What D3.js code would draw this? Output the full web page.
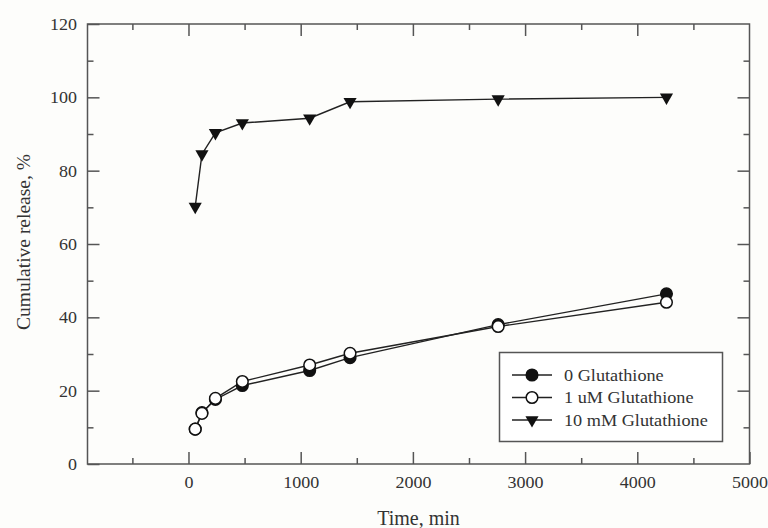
<!DOCTYPE html>
<html><head><meta charset="utf-8">
<script src="https://cdn.jsdelivr.net/npm/d3@7"></script>
<style>body{margin:0;background:#fdfdfb;}svg{display:block;}</style>
</head><body><svg id="c" width="768" height="528"></svg>
<script>
const times = [60, 120, 240, 480, 1080, 1440, 2760, 4260];
const gsh0 = [9.5, 14.0, 17.6, 21.4, 25.5, 29.0, 38.0, 46.4];
const gsh1uM = [9.5, 13.8, 17.9, 22.5, 27.0, 30.2, 37.5, 44.1];
const gsh10mM = [70.2, 84.5, 90.3, 93.0, 94.3, 98.8, 99.5, 100.0];
const seriesNames = ["0 Glutathione", "1 uM Glutathione", "10 mM Glutathione"];
const xTicks = [0, 1000, 2000, 3000, 4000, 5000];
const yTicks = [0, 20, 40, 60, 80, 100, 120];

const svg = d3.select("#c");
const L = 87.5, R = 749.5, T = 24, B = 464;
const x = d3.scaleLinear().domain([-900, 5000]).range([L, R]);
const y = d3.scaleLinear().domain([0, 120]).range([B, T]);
const axisColor = "#555", labelColor = "#333";
const font = "'Liberation Serif','Times New Roman',serif";

svg.append("rect").attr("x", L).attr("y", T).attr("width", R - L).attr("height", B - T)
  .attr("fill", "none").attr("stroke", axisColor).attr("stroke-width", 1.5);

const xMajor = d3.range(-500, 5000, 500).filter(v => v > -900);
const yMinor = d3.range(10, 120, 10);
function tickGroup(axis, offset) {
  const g = svg.append("g").attr("transform", offset).call(axis);
  g.select(".domain").remove();
  g.selectAll(".tick line").attr("stroke", axisColor).attr("stroke-width", 1.5);
  g.selectAll("text").attr("fill", labelColor).style("font-family", font).style("font-size", "17px");
  return g;
}
const gb = tickGroup(d3.axisBottom(x).tickValues(xTicks).tickSize(-12).tickPadding(12).tickFormat(d3.format("d")), `translate(0,${B})`);
gb.selectAll("text").attr("transform", "scale(1.06,1)");
tickGroup(d3.axisBottom(x).tickValues(xMajor.filter(v => v % 1000 !== 0)).tickSize(-6).tickFormat(""), `translate(0,${B})`);
tickGroup(d3.axisTop(x).tickValues(xTicks.filter(v => v < 5000)).tickSize(-12).tickFormat(""), `translate(0,${T})`);
tickGroup(d3.axisTop(x).tickValues(xMajor.filter(v => v % 1000 !== 0)).tickSize(-6).tickFormat(""), `translate(0,${T})`);
const gl = tickGroup(d3.axisLeft(y).tickValues(yTicks).tickSize(-12).tickPadding(10).tickFormat(d3.format("d")), `translate(${L},0)`);
gl.selectAll("text").attr("transform", "scale(1.06,1)");
tickGroup(d3.axisLeft(y).tickValues(yMinor.filter(v => v % 20 !== 0)).tickSize(-6).tickFormat(""), `translate(${L},0)`);
tickGroup(d3.axisRight(y).tickValues(yTicks.filter(v => v > 0 && v < 120)).tickSize(-12).tickFormat(""), `translate(${R},0)`);
tickGroup(d3.axisRight(y).tickValues(yMinor.filter(v => v % 20 !== 0)).tickSize(-6).tickFormat(""), `translate(${R},0)`);

svg.append("text").attr("x", (L + R) / 2).attr("y", 525).attr("text-anchor", "middle")
  .attr("fill", labelColor).style("font-family", font).style("font-size", "20px").text("Time, min");
svg.append("text").attr("transform", `translate(30,${(T + B) / 2 - 2}) rotate(-90)`).attr("text-anchor", "middle")
  .attr("fill", labelColor).style("font-family", font).style("font-size", "19.5px").text("Cumulative release, %");

const line = d3.line().x(d => x(d[0])).y(d => y(d[1]));
const tri = d3.symbol().type(d3.symbolTriangle).size(75);
const series = [
  {vals: gsh0, type: "fill"},
  {vals: gsh1uM, type: "open"},
  {vals: gsh10mM, type: "tri"}
];
function marker(g, type, cx, cy) {
  if (type === "tri") {
    g.append("path").attr("d", tri).attr("transform", `translate(${cx},${cy}) rotate(180)`).attr("fill", "#111");
  } else {
    g.append("circle").attr("cx", cx).attr("cy", cy).attr("r", 5.8)
      .attr("fill", type === "fill" ? "#111" : "#fff").attr("stroke", "#111").attr("stroke-width", 1.5);
  }
}
series.forEach(s => {
  const pts = times.map((t, i) => [t, s.vals[i]]);
  svg.append("path").attr("d", line(pts)).attr("fill", "none").attr("stroke", "#222").attr("stroke-width", 1.4);
});
series.forEach(s => {
  const g = svg.append("g");
  times.forEach((t, i) => marker(g, s.type, x(t), y(s.vals[i])));
});

const lg = svg.append("g");
lg.append("rect").attr("x", 499.5).attr("y", 352.5).attr("width", 223).attr("height", 89)
  .attr("fill", "#fff").attr("stroke", axisColor).attr("stroke-width", 1.5);
series.forEach((s, i) => {
  const ry = 375 + i * 22.5;
  lg.append("line").attr("x1", 512).attr("x2", 552).attr("y1", ry).attr("y2", ry).attr("stroke", "#222").attr("stroke-width", 1.4);
  marker(lg, s.type, 532, ry);
  lg.append("text").attr("transform", `translate(564,${ry + 5.5}) scale(1.14,1)`).attr("fill", labelColor)
    .style("font-family", font).style("font-size", "16px").text(seriesNames[i]);
});
</script></body></html>
